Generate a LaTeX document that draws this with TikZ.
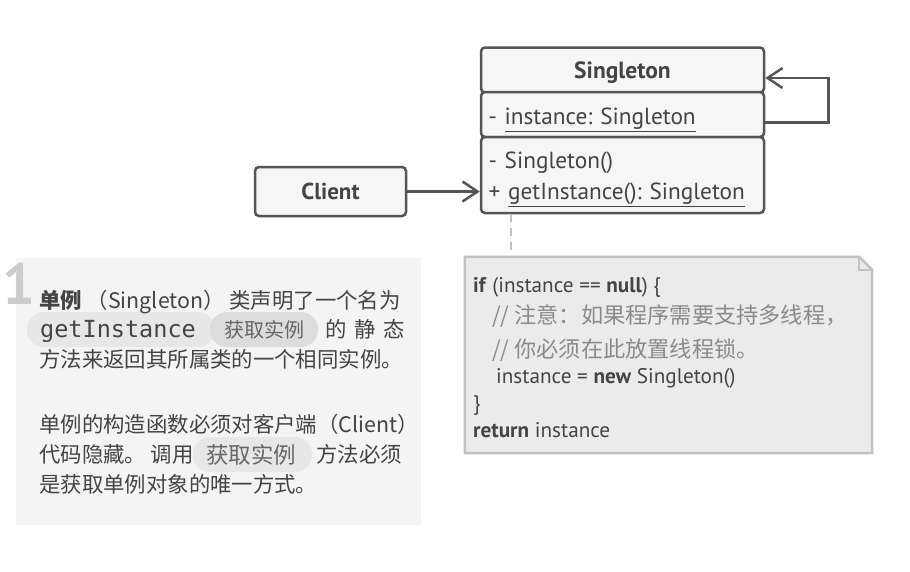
\documentclass[tikz,border=0pt]{standalone}
\usepackage{fontspec}
\setmainfont{PT Sans}
\newfontfamily\cjk{Noto Sans CJK SC}
\newfontfamily\mono{DejaVu Sans Mono}
\usetikzlibrary{arrows.meta,positioning,calc}
\frenchspacing
\definecolor{ink}{HTML}{444444}
\definecolor{edge}{HTML}{555555}
\definecolor{boxfill}{HTML}{F6F6F6}
\definecolor{panel}{HTML}{F4F4F4}
\definecolor{notefill}{HTML}{EBEBEB}
\definecolor{noteedge}{HTML}{C2C2C2}
\definecolor{chipA}{HTML}{E7E7E7}
\definecolor{chipB}{HTML}{DCDCDC}
\definecolor{chiptext}{HTML}{666666}
\definecolor{numgray}{HTML}{CCCCCC}
\definecolor{comment}{HTML}{8A8A8A}
\tikzset{
	classbox/.style={draw=edge, fill=boxfill, line width=2.5pt, rounded corners=4pt, inner sep=0pt, text=ink, minimum width=283pt},
	assoc/.style={draw=edge, line width=2.5pt, -{Straight Barb[length=15pt,width=20pt,line width=2.5pt]}},
	tether/.style={draw=noteedge, line width=2.5pt, dash pattern=on 8pt off 6pt},
	pill/.style={rounded corners=17pt, minimum height=35pt, inner sep=0pt},
	para/.style={anchor=base west, inner sep=0pt, text=ink, font=\cjk\fontsize{21.4}{24}\selectfont},
	code/.style={anchor=base west, inner sep=0pt, text=ink, font=\fontsize{21.2}{24}\selectfont},
	remark/.style={anchor=base west, inner sep=0pt, text=comment, font=\cjk\fontsize{22.2}{24}\selectfont}
}

\begin{document}
\begin{tikzpicture}[x=1pt, y=-1pt]
			%%%%% START %%%%%
			\useasboundingbox (0, 0) rectangle (910, 571);
			
			% class and client
			\node[classbox, minimum height=45pt, text height=22pt, text depth=5pt, font=\bfseries\fontsize{23.5}{26}\selectfont] (header) at (622.5, 70) {Singleton};
			\node[classbox, minimum height=45pt, text width=268pt, text height=24pt, text depth=4pt, align=left, font=\fontsize{23.3}{26}\selectfont] (attrs) at (622.5, 114.5) {- \underline{instance: Singleton}};
			\node[classbox, minimum height=76pt, text width=268pt, align=left, font=\fontsize{23.3}{31}\selectfont] (methods) at (622.5, 175) {\rule{0pt}{25pt}- Singleton()\\+ \underline{getInstance(): Singleton}};
			\node[classbox, minimum width=151pt, minimum height=49pt, font=\bfseries\fontsize{23}{26}\selectfont] (client) at (330.5, 191.5) {Client};
			
			\draw[assoc] (client.east) -- (client.east -| methods.west);
			\draw[assoc] ([yshift=-8pt]attrs.east) -- ++(63, 0) |- ([yshift=-8pt]header.east);
			
			% note
			\node[minimum width=407pt, minimum height=196pt, inner sep=0pt] (note) at (668.5, 355) {};
			\draw[draw=noteedge, fill=notefill, line width=2.5pt] (note.north west) -- ([xshift=-13pt]note.north east) -- ([yshift=-13pt]note.north east) -- (note.south east) -- (note.south west) -- cycle;
			\draw[draw=noteedge, line width=2pt] ([xshift=-13pt]note.north east) |- ([yshift=-13pt]note.north east);
			\coordinate (hook) at (511, 0);
			\draw[tether] (methods.south -| hook) -- (note.north -| hook);
			
			\node[code] (c1) at (473, 292) {\textbf{if} (instance == \textbf{null}) \{};
			\node[remark] (c2) at (492, 323) {// 注意：如果程序需要支持多线程，};
			\node[remark] (c3) at (492, 357) {// 你必须在此放置线程锁。};
			\node[code] (c4) at (496, 383) {instance = \textbf{new} Singleton()};
			\node[code] (c5) at (473, 410) {\}};
			\node[code] (c6) at (473, 437) {\textbf{return} instance};
			
			% explanation panel
			\node[fill=panel, minimum width=405pt, minimum height=267pt, inner sep=0pt] (panel) at (218.5, 391.5) {};
			\node[anchor=base west, inner sep=0pt, text=numgray, font=\bfseries\fontsize{58}{58}\selectfont] (stepnum) at (2, 304) {1};
			
			\node[pill, fill=chipA, minimum width=188pt] (chip1) at (121, 329.5) {};
			\node[pill, fill=chipB, minimum width=108pt] (chip2) at (264, 329.5) {};
			\node[pill, fill=chipA, minimum width=119pt] (chip3) at (252.5, 454.5) {};
			
			\node[para] (p1) at (39, 308) {\textbf{单例} （Singleton） 类声明了一个名为};
			\node[para, font=\mono\fontsize{23.5}{24}\selectfont] (p2a) at (40, 337) {getInstance};
			\node[para, text=chiptext, font=\cjk\fontsize{20}{24}\selectfont] (p2b) at (224, 337) {获取实例};
			\node[para] (p2c) at (325, 337) {的\hspace{8pt}静\hspace{8pt}态};
			\node[para] (p3) at (39, 367) {方法来返回其所属类的一个相同实例。};
			\node[para] (p4) at (39, 432) {单例的构造函数必须对客户端（Client）};
			\node[para] (p5a) at (39, 462) {代码隐藏。 调用};
			\node[para, text=chiptext, font=\cjk\fontsize{22.5}{24}\selectfont] (p5b) at (206, 463) {获取实例};
			\node[para] (p5c) at (316, 462) {方法必须};
			\node[para] (p6) at (39, 492) {是获取单例对象的唯一方式。};
			%%%%% END %%%%%
\end{tikzpicture}
\end{document}
